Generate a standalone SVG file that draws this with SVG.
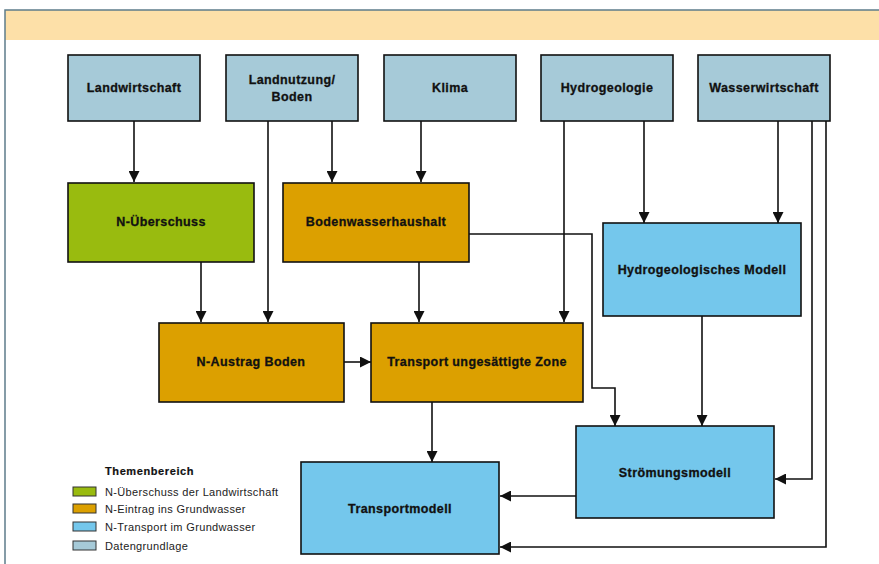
<svg xmlns="http://www.w3.org/2000/svg" width="879" height="564" viewBox="0 0 879 564">
<style>
.box{stroke:#111;stroke-width:1.6}
.data{fill:#a6cad8}
.green{fill:#99bb0f}
.orange{fill:#dca000}
.blue{fill:#74c7ec}
.lbl{font-family:"Liberation Sans",Arial,sans-serif;font-weight:bold;font-size:12.5px;letter-spacing:0.4px;fill:#111;stroke:#111;stroke-width:0.3;text-anchor:middle}
.leg{font-family:"Liberation Sans",Arial,sans-serif;font-size:11px;letter-spacing:0.35px;fill:#222}
.legh{font-family:"Liberation Sans",Arial,sans-serif;font-size:11px;font-weight:bold;letter-spacing:0.6px;fill:#111;stroke:#111;stroke-width:0.2}
.con{fill:none;stroke:#111;stroke-width:1.6}
.sw{stroke:#333;stroke-width:1}
</style>
<defs>
<marker id="ah" markerWidth="11" markerHeight="11" refX="11" refY="5.5" orient="auto" markerUnits="userSpaceOnUse">
<path d="M0,0 L11,5.5 L0,11 Z" fill="#111"/>
</marker>
</defs>
<rect x="0" y="0" width="879" height="564" fill="#fff"/>
<g id="frame">
<rect x="5" y="10" width="874" height="30" fill="#fde0a8"/>
<path d="M5,564 V10 H879" fill="none" stroke="#5e7c8a" stroke-width="1.5"/>
</g>
<g id="connectors">
<path class="con" d="M134,121 V182" marker-end="url(#ah)"/>
<path class="con" d="M332,121 V182" marker-end="url(#ah)"/>
<path class="con" d="M421,121 V182" marker-end="url(#ah)"/>
<path class="con" d="M268,121 V322" marker-end="url(#ah)"/>
<path class="con" d="M564,121 V322" marker-end="url(#ah)"/>
<path class="con" d="M644,121 V223" marker-end="url(#ah)"/>
<path class="con" d="M778,121 V223" marker-end="url(#ah)"/>
<path class="con" d="M812,121 V479 H775" marker-end="url(#ah)"/>
<path class="con" d="M826,121 V547 H500" marker-end="url(#ah)"/>
<path class="con" d="M201,262 V322" marker-end="url(#ah)"/>
<path class="con" d="M419,262 V322" marker-end="url(#ah)"/>
<path class="con" d="M469,234 H592 V388 H615 V426" marker-end="url(#ah)"/>
<path class="con" d="M702,316 V426" marker-end="url(#ah)"/>
<path class="con" d="M344,362 H371" marker-end="url(#ah)"/>
<path class="con" d="M432,402 V462" marker-end="url(#ah)"/>
<path class="con" d="M576,496 H500" marker-end="url(#ah)"/>
</g>
<g id="landwirtschaft"><rect class="box data" x="68" y="55" width="132" height="66"/><text class="lbl" x="134" y="92">Landwirtschaft</text></g>
<g id="landnutzung"><rect class="box data" x="226" y="55" width="132" height="66"/><text class="lbl" x="292" y="84">Landnutzung/</text><text class="lbl" x="292" y="101">Boden</text></g>
<g id="klima"><rect class="box data" x="384" y="55" width="132" height="66"/><text class="lbl" x="450" y="92">Klima</text></g>
<g id="hydrogeologie"><rect class="box data" x="541" y="55" width="132" height="66"/><text class="lbl" x="607" y="92">Hydrogeologie</text></g>
<g id="wasserwirtschaft"><rect class="box data" x="698" y="55" width="132" height="66"/><text class="lbl" x="764" y="92">Wasserwirtschaft</text></g>
<g id="n-ueberschuss"><rect class="box green" x="68" y="183" width="186" height="79"/><text class="lbl" x="161" y="226">N-Überschuss</text></g>
<g id="bodenwasserhaushalt"><rect class="box orange" x="283" y="183" width="186" height="79"/><text class="lbl" x="376" y="226">Bodenwasserhaushalt</text></g>
<g id="hydrogeologisches-modell"><rect class="box blue" x="603" y="223" width="198" height="93"/><text class="lbl" x="702" y="274">Hydrogeologisches Modell</text></g>
<g id="n-austrag"><rect class="box orange" x="159" y="323" width="185" height="79"/><text class="lbl" x="251" y="366">N-Austrag Boden</text></g>
<g id="transport-ungesaettigt"><rect class="box orange" x="371" y="323" width="212" height="79"/><text class="lbl" x="477" y="366">Transport ungesättigte Zone</text></g>
<g id="stroemungsmodell"><rect class="box blue" x="576" y="426" width="198" height="92"/><text class="lbl" x="675" y="477">Strömungsmodell</text></g>
<g id="transportmodell"><rect class="box blue" x="301" y="462" width="198" height="92"/><text class="lbl" x="400" y="513">Transportmodell</text></g>
<g id="legend">
<text class="legh" x="105" y="475">Themenbereich</text>
<rect class="sw green" x="73" y="487" width="23" height="9"/><text class="leg" x="105" y="495.5">N-Überschuss der Landwirtschaft</text>
<rect class="sw orange" x="73" y="504" width="23" height="9"/><text class="leg" x="105" y="512.5">N-Eintrag ins Grundwasser</text>
<rect class="sw blue" x="73" y="522" width="23" height="9"/><text class="leg" x="105" y="530.5">N-Transport im Grundwasser</text>
<rect class="sw data" x="73" y="541" width="23" height="9"/><text class="leg" x="105" y="549.5">Datengrundlage</text>
</g>
</svg>
